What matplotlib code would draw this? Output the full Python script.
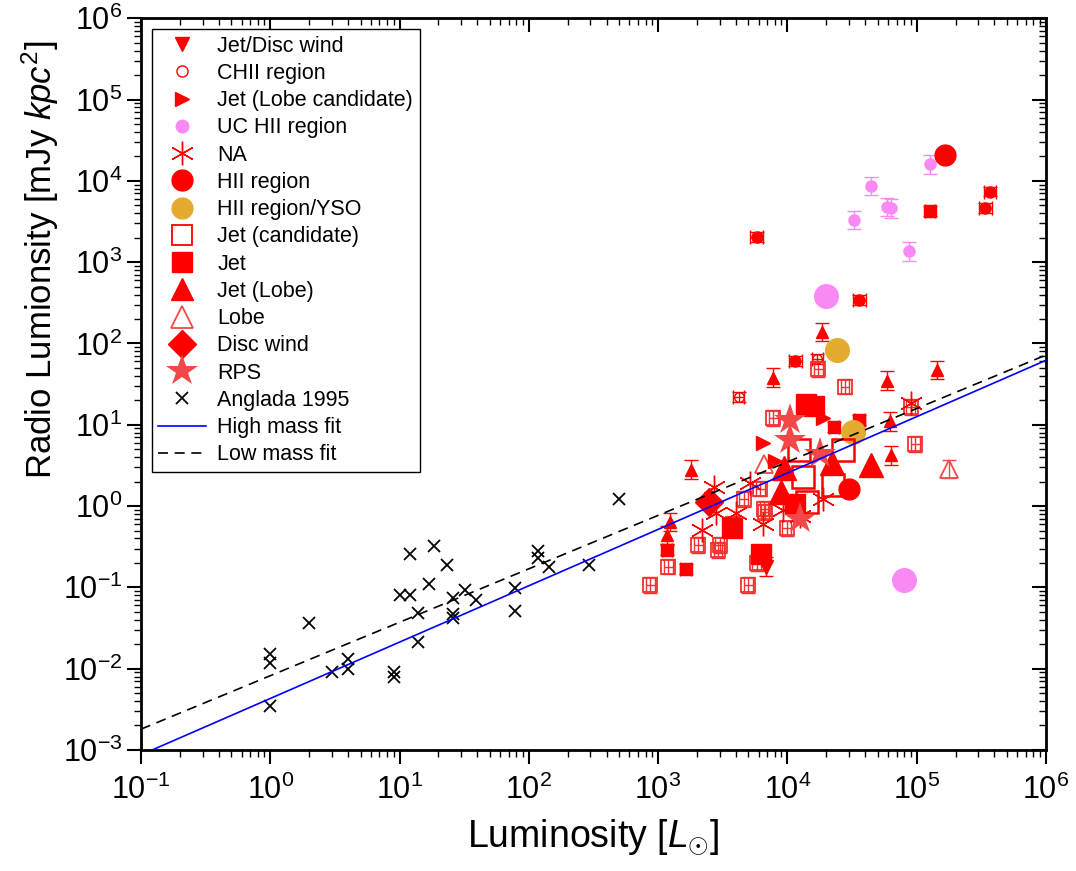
import matplotlib
matplotlib.use("Agg")
import matplotlib.pyplot as plt
from matplotlib.lines import Line2D
from matplotlib.ticker import LogLocator, NullFormatter
import numpy as np

plt.rcParams['font.family'] = ['Liberation Sans', 'DejaVu Sans']
plt.rcParams['mathtext.fontset'] = 'custom'
plt.rcParams['mathtext.rm'] = 'Liberation Sans'
plt.rcParams['mathtext.it'] = 'Liberation Sans:italic'

# ---- data ----
jetdw_x = [6.9e3]
jetdw_y = [0.18]

chii_x = [4.2e3, 1.71e4]
chii_y = [22, 65]

lobecand_x = [6.5e3, 1.9e4, 8.0e3]
lobecand_y = [5.9, 12, 3.6]

uchii_small_x = [1.27e5, 4.4e4, 5.9e4, 6.3e4, 3.3e4, 8.7e4]
uchii_small_y = [1.6e4, 8.7e3, 4.8e3, 4.6e3, 3.3e3, 1.36e3]
uchii_large_x = [2.0e4, 8.0e4]
uchii_large_y = [384, 0.122]

na_x = [9.0e4, 2.7e3, 5.1e3, 1.9e4, 2.8e3, 4.0e3, 9.3e3, 6.5e3, 2.2e3, 1.25e4]
na_y = [18.4, 1.72, 1.93, 1.23, 0.82, 0.81, 0.89, 0.61, 0.51, 0.75]

hii_small_x = [3.7e5, 3.4e5, 5.8e3, 3.6e4, 1.15e4]
hii_small_y = [7.4e3, 4.6e3, 2.05e3, 340, 61]
hii_large_x = [1.66e5, 3.0e4]
hii_large_y = [2.07e4, 1.64]

yso_x = [2.42e4, 3.24e4]
yso_y = [83, 8.1]

jetcand_large_x = [1.23e4, 2.7e4, 1.32e4, 2.26e4, 1.43e4]
jetcand_large_y = [4.85, 4.85, 2.28, 1.8, 1.12]
jetcand_small_x = [7.8e3, 1.74e4, 2.8e4, 9.8e4, 9.0e4, 4.6e3, 6.2e3, 6.7e3, 6.6e3,
                   9.9e3, 2.05e3, 3.0e3, 2.9e3, 1.2e3, 8.7e2, 5.0e3, 5.8e3, 3.8e3]
jetcand_small_y = [12, 49, 29.5, 5.8, 16.5, 1.23, 1.64, 0.85, 0.93,
                   0.53, 0.33, 0.33, 0.29, 0.18, 0.106, 0.106, 0.20, 0.6]

jet_large_x = [1.4e4, 1.6e4, 1.15e4, 3.7e3, 6.3e3]
jet_large_y = [18, 17, 1.07, 0.53, 0.26]
jet_small_x = [1.27e5, 2.3e4, 3.6e4, 1.17e3, 1.64e3]
jet_small_y = [4.3e3, 9.3, 11.4, 0.29, 0.17]

jetlobe_small_x = [1.85e4, 7.8e3, 5.9e4, 1.45e5, 6.2e4, 6.3e4, 1.23e3, 1.17e3, 1.8e3]
jetlobe_small_y = [138, 38, 35, 47, 11, 4.2, 0.64, 0.44, 2.8]
jetlobe_large_x = [2.2e4, 4.4e4, 9.0e3, 9.5e3]
jetlobe_large_y = [3.4, 3.2, 1.5, 2.9]

lobe_x = [1.78e5, 6.6e3]
lobe_y = [2.84, 3.3]

discwind_x = [2.5e3]
discwind_y = [1.12]

rps_x = [1.05e4, 1.05e4, 1.8e4, 1.25e4]
rps_y = [11.4, 6.5, 4.4, 0.70]

anglada_x = [1, 1, 1, 2, 3, 4, 4, 9, 9, 10, 12, 12, 14, 14, 17, 18.5, 23.5, 26, 26, 26,
             32, 39, 78, 78, 117, 117, 143, 291, 500]
anglada_y = [0.0153, 0.0116, 0.0035, 0.0365, 0.0091, 0.0133, 0.010, 0.0091, 0.0079, 0.0815,
             0.080, 0.26, 0.048, 0.0213, 0.111, 0.32, 0.19, 0.0475, 0.042, 0.075,
             0.092, 0.069, 0.098, 0.051, 0.28, 0.23, 0.178, 0.19, 1.21]

fit_x = [0.1, 1e6]
high_fit_y = [8.7e-4, 62]
low_fit_y = [1.8e-3, 72]

RED = '#ff0000'
PINK = '#f98af5'
GOLD = '#e5ab30'
RPS_C = '#f44848'


def logerr(y, f):
    y = np.asarray(y)
    return [y - y / f, y * f - y]


fig = plt.figure(figsize=(10.76, 8.71), dpi=100)
ax = fig.add_axes([0.131, 0.139, 0.841, 0.840])
ax.set_xscale('log')
ax.set_yscale('log')

ebkw = dict(fmt='none', elinewidth=1, capsize=5, capthick=1, zorder=2)

# error bars for the small markers
ax.errorbar(hii_small_x, hii_small_y, yerr=logerr(hii_small_y, 1.15), xerr=logerr(hii_small_x, 1.12), ecolor=RED, **ebkw)
ax.errorbar(uchii_small_x, uchii_small_y, yerr=logerr(uchii_small_y, 1.3), ecolor=PINK, **ebkw)
ax.errorbar(chii_x, chii_y, yerr=logerr(chii_y, 1.15), xerr=logerr(chii_x, 1.1), ecolor=RED, **ebkw)
ax.errorbar(jet_small_x, jet_small_y, yerr=logerr(jet_small_y, 1.15), xerr=logerr(jet_small_x, 1.1), ecolor=RED, **ebkw)
ax.errorbar(jetlobe_small_x, jetlobe_small_y, yerr=logerr(jetlobe_small_y, 1.3), ecolor=RED, **ebkw)
ax.errorbar(jetcand_small_x, jetcand_small_y, yerr=logerr(jetcand_small_y, 1.25),
            xerr=logerr(jetcand_small_x, 1.08), ecolor='#f43030', **ebkw)
ax.errorbar(lobe_x[:1], lobe_y[:1], yerr=logerr(lobe_y[:1], 1.3), ecolor='#f44848', **ebkw)
ax.errorbar(jetdw_x, jetdw_y, yerr=logerr(jetdw_y, 1.3), ecolor=RED, **ebkw)

# markers
ax.plot(uchii_small_x, uchii_small_y, 'o', ms=8, color=PINK, zorder=3)
ax.plot(uchii_large_x, uchii_large_y, 'o', ms=17, color=PINK, zorder=3)
ax.plot(hii_small_x, hii_small_y, 'o', ms=8, color=RED, zorder=3)
ax.plot(hii_large_x, hii_large_y, 'o', ms=15, color=RED, zorder=3)
ax.plot(yso_x, yso_y, 'o', ms=17, color=GOLD, zorder=4)
ax.plot(chii_x, chii_y, 'o', ms=7, mfc='none', mec=RED, mew=1, zorder=3)
ax.plot(jetcand_small_x, jetcand_small_y, 's', ms=10, mfc='none', mec='#f43030', mew=1.3, zorder=3)
ax.plot(jetcand_large_x, jetcand_large_y, 's', ms=16, mfc='none', mec=RED, mew=1.8, zorder=5)
ax.plot(jet_small_x, jet_small_y, 's', ms=8, color=RED, zorder=3)
ax.plot(jet_large_x, jet_large_y, 's', ms=15, color=RED, zorder=4)
ax.plot(jetlobe_small_x, jetlobe_small_y, '^', ms=9, color=RED, zorder=3)
ax.plot(jetlobe_large_x, jetlobe_large_y, '^', ms=17, color=RED, zorder=4)
ax.plot(lobe_x, lobe_y, '^', ms=13, mfc='none', mec='#f44848', mew=1.3, zorder=3)
ax.plot(lobecand_x, lobecand_y, '>', ms=10, color=RED, zorder=4)
ax.plot(jetdw_x, jetdw_y, 'v', ms=10, color=RED, zorder=4)
ax.plot(na_x, na_y, marker=(6, 2, 0), ms=17, ls='none', color=RED, mew=1, zorder=4)
ax.plot(discwind_x, discwind_y, 'D', ms=14, color=RED, zorder=4)
ax.plot(rps_x, rps_y, '*', ms=24, color=RPS_C, mew=0, zorder=5)
ax.plot(anglada_x, anglada_y, 'x', ms=9, color='black', mew=1.3, zorder=3)

ax.plot(fit_x, high_fit_y, '-', color='#0000ff', lw=1.2, zorder=6)
ax.plot(fit_x, low_fit_y, '--', color='black', lw=1.2, dashes=(6, 4), zorder=6)

ax.set_xlim(0.1, 1e6)
ax.set_ylim(1e-3, 1e6)

for axis in (ax.xaxis, ax.yaxis):
    axis.set_major_locator(LogLocator(base=10, numticks=20))
    axis.set_minor_locator(LogLocator(base=10, subs=np.arange(2, 10), numticks=200))
    axis.set_minor_formatter(NullFormatter())

ax.tick_params(which='major', direction='out', length=10, width=1.5)
ax.tick_params(which='minor', direction='out', length=5, width=1)
ax.tick_params(axis='y', labelsize=22)
ax.tick_params(axis='x', labelsize=22, pad=8)

for side in ('top', 'right'):
    sec = ax.secondary_xaxis('top') if side == 'top' else ax.secondary_yaxis('right')
    a = sec.xaxis if side == 'top' else sec.yaxis
    a.set_major_locator(LogLocator(base=10, numticks=20))
    a.set_minor_locator(LogLocator(base=10, subs=np.arange(2, 10), numticks=200))
    a.set_major_formatter(NullFormatter())
    a.set_minor_formatter(NullFormatter())
    sec.tick_params(which='major', direction='in', length=10, width=1.5)
    sec.tick_params(which='minor', direction='in', length=5, width=1)

for s in ax.spines.values():
    s.set_linewidth(2)

ax.set_xlabel(r'Luminosity [$\it{L}_{\odot}$]', fontsize=27, labelpad=8)
ax.set_ylabel(r'Radio Lumionsity [mJy $\it{kpc}^{2}$]', fontsize=25)
ax.yaxis.set_label_coords(-0.088, 0.67)

handles = [
    Line2D([], [], ls='none', marker='v', ms=10, color=RED),
    Line2D([], [], ls='none', marker='o', ms=8, mfc='none', mec=RED, mew=1),
    Line2D([], [], ls='none', marker='>', ms=10, color=RED),
    Line2D([], [], ls='none', marker='o', ms=9, color=PINK),
    Line2D([], [], ls='none', marker=(6, 2, 0), ms=17, color=RED, mew=1),
    Line2D([], [], ls='none', marker='o', ms=15, color=RED),
    Line2D([], [], ls='none', marker='o', ms=15, color=GOLD),
    Line2D([], [], ls='none', marker='s', ms=14, mfc='none', mec=RED, mew=1.3),
    Line2D([], [], ls='none', marker='s', ms=14, color=RED),
    Line2D([], [], ls='none', marker='^', ms=16, color=RED),
    Line2D([], [], ls='none', marker='^', ms=16, mfc='none', mec='#f44848', mew=1.3),
    Line2D([], [], ls='none', marker='D', ms=14, color=RED),
    Line2D([], [], ls='none', marker='*', ms=24, color=RPS_C, mew=0),
    Line2D([], [], ls='none', marker='x', ms=9, color='black', mew=1.3),
    Line2D([], [], ls='-', color='#0000ff', lw=1.2),
    Line2D([], [], ls='--', color='black', lw=1.2, dashes=(6, 4)),
]
labels = ['Jet/Disc wind', 'CHII region', 'Jet (Lobe candidate)', 'UC HII region', 'NA',
          'HII region', 'HII region/YSO', 'Jet (candidate)', 'Jet', 'Jet (Lobe)', 'Lobe',
          'Disc wind', 'RPS', 'Anglada 1995', 'High mass fit', 'Low mass fit']
leg = ax.legend(handles, labels, loc='upper left', bbox_to_anchor=(0.012, 0.985),
                fontsize=15.5, frameon=True, fancybox=False, framealpha=1, edgecolor='black',
                handlelength=2.2, handletextpad=0.55, labelspacing=0.29, borderpad=0.3,
                borderaxespad=0)
leg.get_frame().set_linewidth(1)

fig.savefig('out.png', dpi=100)
